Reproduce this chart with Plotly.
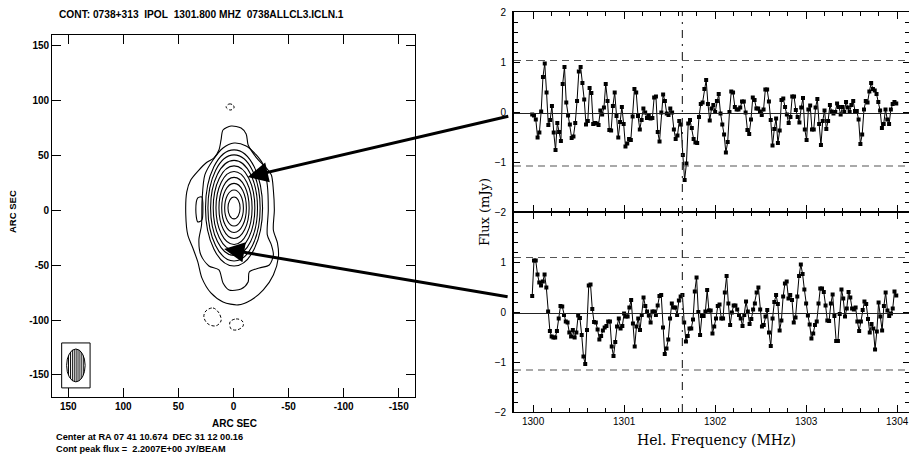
import numpy as np
import plotly.graph_objects as go

W, H = 909, 454

# ---------------- spectra (mJy) ----------------
flux_top = [
    -0.05, -0.07, -0.15, -0.51, -0.41, 0.01, 0.70, 0.97, 0.39, -0.26,
    -0.16, 0.12, -0.41, -0.76, -0.22, -0.40, -0.58, 0.56, 0.90, 0.19,
    -0.07, -0.25, -0.52, -0.49, -0.22, 0.22, 0.81, 0.90, 0.58, 0.25,
    -0.25, -0.18, 0.48, 0.38, -0.24, -0.22, -0.23, -0.26, 0.03, -0.05,
    0.09, 0.56, 0.22, -0.36, -0.37, 0.12, 0.39, -0.08, -0.51, -0.20,
    0.10, -0.24, -0.69, -0.63, -0.54, -0.56, -0.09, 0.46, 0.39, -0.08,
    -0.35, -0.16, 0.07, -0.01, -0.12, -0.07, -0.13, -0.12, 0.29, 0.31,
    -0.40, -0.59, -0.01, 0.35, 0.22, -0.03, -0.06, 0.07, -0.01, -0.35,
    -0.54, -0.47, -0.18, -0.25, -0.86, -1.36, -1.03, -0.23, -0.16, -0.32,
    -0.54, -0.61, -0.62, -0.10, 0.16, 0.19, 0.46, 0.64, 0.16, -0.17,
    0.07, 0.14, 0.00, 0.22, 0.36, -0.03, -0.25, -0.45, -0.81, -0.60,
    0.00, 0.41, 0.39, 0.10, 0.05, 0.05, 0.09, 0.21, 0.21, -0.01,
    -0.36, -0.44, -0.15, 0.29, 0.24, 0.07, 0.07, 0.01, -0.06, 0.05,
    0.45, 0.45, 0.21, -0.16, -0.67, -0.34, -0.13, -0.62, -0.37, 0.24,
    0.27, 0.10, -0.05, -0.22, -0.10, 0.31, 0.31, 0.04, -0.10, -0.21,
    0.09, 0.28, -0.35, -0.56, 0.05, 0.13, -0.35, -0.35, 0.09, 0.26,
    -0.24, -0.66, -0.18, 0.03, -0.34, -0.18, 0.14, 0.01, -0.03, 0.00,
    0.17, 0.10, -0.05, 0.10, 0.00, 0.20, 0.09, 0.00, 0.14, 0.22,
    0.02, 0.02, -0.15, -0.64, -0.45, 0.05, 0.22, 0.19, 0.41, 0.58,
    0.46, 0.43, 0.36, 0.20, 0.03, -0.32, -0.24, 0.05, -0.15, -0.24,
    0.05, 0.16, 0.20, 0.17,
]
flux_bottom = [
    0.32, 1.03, 1.03, 0.75, 0.59, 0.53, 0.61, 0.75, 0.49, 0.01,
    -0.38, -0.49, -0.51, -0.51, -0.38, -0.13, 0.12, 0.11, -0.06, -0.19,
    -0.21, -0.41, -0.49, -0.36, -0.51, -0.41, -0.07, -0.12, -0.46, -0.89,
    -1.04, -0.36, 0.53, 0.55, 0.06, -0.20, -0.21, -0.35, -0.55, -0.48,
    -0.37, -0.31, -0.28, -0.19, -0.19, -0.69, -0.88, -0.60, -0.29, -0.13,
    -0.33, -0.28, -0.03, -0.09, -0.09, 0.09, 0.24, -0.23, -0.69, -0.29,
    -0.13, -0.36, -0.06, 0.29, 0.12, 0.01, -0.07, -0.21, 0.01, 0.01,
    -0.06, 0.13, 0.32, 0.34, -0.31, -0.84, -0.73, -0.55, -0.13, 0.17,
    0.09, 0.09, -0.06, 0.23, 0.31, 0.34, -0.21, -0.59, -0.48, -0.33,
    -0.33, -0.15, 0.41, 0.69, 0.00, -0.46, -0.08, -0.08, 0.01, 0.44,
    0.03, 0.03, -0.43, -0.29, -0.13, 0.12, 0.15, -0.13, -0.13, 0.39,
    0.72, 0.17, -0.26, -0.01, 0.13, 0.13, 0.05, -0.06, -0.13, -0.28,
    -0.06, 0.21, 0.01, -0.24, -0.14, 0.05, 0.17, 0.39, 0.49, 0.05,
    -0.29, -0.26, -0.09, 0.04, -0.41, -0.68, -0.13, 0.20, 0.34, 0.16,
    -0.37, -0.17, 0.31, 0.57, 0.61, 0.27, 0.34, 0.24, -0.21, -0.11,
    0.31, 0.72, 0.95, 0.76, 0.45, 0.17, -0.07, -0.25, -0.53, -0.43,
    -0.26, -0.19, 0.17, 0.47, 0.47, 0.40, 0.13, -0.17, -0.18, 0.17,
    0.35, -0.08, -0.58, -0.58, -0.04, 0.45, 0.27, -0.09, 0.07, 0.40,
    0.29, 0.07, 0.05, 0.09, -0.19, -0.38, -0.19, 0.04, 0.21, 0.16,
    -0.14, -0.41, -0.24, -0.33, -0.75, -0.39, 0.19, -0.09, -0.37, 0.12,
    0.39, 0.03, -0.08, -0.03, 0.07, 0.41, 0.33,
]
freq_first, freq_last = 1299.99, 1303.99
freq_top = np.linspace(freq_first, freq_last, len(flux_top))
freq_bottom = np.linspace(freq_first, freq_last, len(flux_bottom))

line_freq = 1301.64
top_levels = {"zero": -0.03, "hi": 1.03, "lo": -1.08}
bot_levels = {"zero": -0.03, "hi": 1.09, "lo": -1.16}
freq_ticks = [1300, 1301, 1302, 1303, 1304]

# ---------------- contour map (arcsec) ----------------
map_ticks = [150, 100, 50, 0, -50, -100, -150]
core_center = (-0.5, 2.3)
core_semi_x = [5.5, 8.5, 11.2, 13.7, 16.4, 18.9, 21.3, 23.7, 25.9]
core_semi_y = [10.0, 16.4, 22.4, 27.9, 33.3, 38.4, 43.4, 48.4, 53.0]

outer_a_x = [9.5, 2.2, -6.9, -11.5, -13.3, -17.0, -22.5, -29.8, -34.4, -36.2, -37.1, -36.2,
             -39.9, -40.8, -36.2, -27.1, -16.1, -4.2, 9.5, 20.5, 28.7, 32.4, 36.9, 41.5,
             43.3, 42.4, 38.8, 31.4, 25.0, 17.7, 13.2, 11.3, 9.5]
outer_a_y = [73.4, 77.0, 75.2, 69.8, 59.7, 53.4, 46.1, 38.7, 32.4, 18.7, 0.5, -17.8,
             -29.6, -42.4, -58.8, -72.5, -81.6, -86.1, -83.4, -75.2, -61.5, -46.9, -34.2, -22.3,
             -4.1, 16.9, 27.8, 36.9, 43.3, 47.9, 55.2, 64.3, 73.4]
outer_b_x = [-0.5, -11.5, -20.7, -27.1, -30.7, -31.6, -30.7, -34.4, -36.2, -32.5, -23.4, -14.3,
             -13.3, -6.9, 4.0, 9.5, 13.2, 22.3, 29.6, 31.4, 29.0, 28.5, 26.0, 18.6, 9.5, -0.5]
outer_b_y = [61.5, 58.8, 50.6, 41.5, 23.2, 0.5, -22.3, -31.4, -40.6, -49.7, -52.4, -56.1,
             -65.2, -71.6, -72.5, -66.1, -54.2, -50.6, -40.6, -26.9, -13.2, 9.6, 32.4, 46.0, 57.0, 61.5]
island_x = [32.4, 28.7, 27.8, 28.7, 32.4, 34.2, 32.4]
island_y = [11.4, 12.3, 2.3, -8.7, -10.5, 0.5, 11.4]

neg1_x = [6.8, 4.0, 0.4, -0.5, 3.1, 6.8]
neg1_y = [94.4, 97.1, 96.2, 93.5, 91.6, 94.4]
neg2_x = [25.0, 18.6, 13.2, 11.3, 15.9, 23.2, 26.9, 25.0]
neg2_y = [-91.6, -88.9, -93.4, -100.7, -105.2, -103.4, -97.0, -91.6]
neg3_x = [3.1, -2.4, -7.9, -8.8, -3.3, 2.2, 3.1]
neg3_y = [-101.6, -98.9, -100.7, -105.2, -108.9, -108.0, -101.6]

beam_center = (143.1, -141.3)
beam_semi = (8.4, 15.0)
beam_box = (156.0, 130.2, -120.8, -161.8)

arrow_heads = [(-13.0, 30.6), (8.5, -35.1)]
arrow_tails_px = [(262, -61), (285, 48)]

title_text = "CONT: 0738+313\u00a0\u00a0IPOL\u00a0\u00a01301.800 MHZ\u00a0\u00a00738ALLCL3.ICLN.1"
foot1 = "Center at RA 07 41 10.674\u00a0\u00a0DEC 31 12 00.16"
foot2 = "Cont peak flux =\u00a0\u00a02.2007E+00 JY/BEAM"

# ---------------- figure ----------------
fig = go.Figure()
CL = dict(color="black", width=1.1)

for xs, ys in [(outer_a_x, outer_a_y), (outer_b_x, outer_b_y), (island_x, island_y)]:
    fig.add_trace(go.Scatter(x=xs, y=ys, mode="lines", line=dict(shape="spline", smoothing=0.8, **CL),
                             xaxis="x", yaxis="y", showlegend=False, hoverinfo="skip"))
for xs, ys in [(neg1_x, neg1_y), (neg2_x, neg2_y), (neg3_x, neg3_y)]:
    fig.add_trace(go.Scatter(x=xs, y=ys, mode="lines",
                             line=dict(shape="spline", smoothing=1, color="black", width=1, dash="3px,2px"),
                             xaxis="x", yaxis="y", showlegend=False, hoverinfo="skip"))

shapes = []
cx, cy = core_center
for ax_, ay_ in zip(core_semi_x, core_semi_y):
    shapes.append(dict(type="circle", xref="x", yref="y", x0=cx - ax_, x1=cx + ax_,
                       y0=cy - ay_, y1=cy + ay_, line=CL))
# beam
bx0, bx1, by0, by1 = beam_box
shapes.append(dict(type="rect", xref="x", yref="y", x0=bx0, x1=bx1, y0=by0, y1=by1,
                   line=dict(color="black", width=1)))
bcx, bcy = beam_center
ba, bb = beam_semi
shapes.append(dict(type="circle", xref="x", yref="y", x0=bcx - ba, x1=bcx + ba,
                   y0=bcy - bb, y1=bcy + bb, line=dict(color="black", width=1)))
for f in np.linspace(-0.8, 0.8, 8):
    h = bb * np.sqrt(1 - f * f)
    shapes.append(dict(type="line", xref="x", yref="y", x0=bcx + f * ba, x1=bcx + f * ba,
                       y0=bcy - h, y1=bcy + h, line=dict(color="black", width=1)))

# spectra
for flux, freq, xa, ya, lv in [(flux_top, freq_top, "x2", "y2", top_levels),
                               (flux_bottom, freq_bottom, "x3", "y3", bot_levels)]:
    fig.add_trace(go.Scatter(x=freq, y=flux, mode="lines+markers", xaxis=xa, yaxis=ya,
                             line=dict(color="black", width=1),
                             marker=dict(symbol="square", size=4, color="black"),
                             showlegend=False, hoverinfo="skip"))
    shapes.append(dict(type="line", xref=xa + " domain", yref=ya, x0=0, x1=1,
                       y0=lv["zero"], y1=lv["zero"], line=dict(color="#222", width=1.2)))
    for k in ("hi", "lo"):
        shapes.append(dict(type="line", xref=xa + " domain", yref=ya, x0=0, x1=1,
                           y0=lv[k], y1=lv[k], line=dict(color="#555", width=1.2, dash="7px,5px")))

def px(v):
    return v / W

def py(v):
    return 1 - v / H

shapes.append(dict(type="line", xref="x2", yref="paper", x0=line_freq, x1=line_freq,
                   y0=py(412), y1=py(12), line=dict(color="#333", width=1.2, dash="8px,6px,2px,6px")))

SANS = "Liberation Sans, Arial, sans-serif"
SERIF = "DejaVu Serif, serif"
left_axis = dict(showline=True, linecolor="black", linewidth=1.3, mirror="ticks", ticks="inside",
                 ticklen=9, tickcolor="black", tickwidth=1.2, showgrid=False, zeroline=False,
                 automargin=False,
                 tickvals=map_ticks, ticktext=[str(t) for t in map_ticks],
                 tickfont=dict(family=SANS, size=10, color="black", weight="bold"))
spec_x = dict(showline=True, linecolor="black", linewidth=1.2, mirror="allticks", ticks="inside",
              ticklen=7, tickcolor="black", tickwidth=1.3, showgrid=False, zeroline=False,
              automargin=False,
              range=[1299.79, 1304.13], tickvals=freq_ticks,
              minor=dict(dtick=0.2, tick0=1300, ticks="inside", ticklen=4, tickcolor="black", tickwidth=1),
              tickfont=dict(family=SANS, size=10, color="black"))
spec_y = dict(showline=True, linecolor="black", linewidth=1.8, mirror="allticks", ticks="inside",
              ticklen=6, tickcolor="black", tickwidth=1.3, showgrid=False, zeroline=False,
              automargin=False,
              range=[-2, 2], minor=dict(dtick=0.2, tick0=0, ticks="inside", ticklen=4, tickcolor="black", tickwidth=1),
              tickfont=dict(family=SANS, size=10, color="black"), ticklabelstandoff=4)

def note(text, x, y, size, family=SANS, bold=True, xanchor="center", angle=0):
    return dict(text=text, x=px(x), y=py(y), xref="paper", yref="paper", xanchor=xanchor,
                yanchor="middle", textangle=angle, showarrow=False,
                font=dict(family=family, size=size, color="black", weight="bold" if bold else "normal"))

annotations = [
    note(title_text, 57, 14, 10.2, xanchor="left"),
    note("ARC SEC", 12, 212, 9.5, angle=-90),
    note("ARC SEC", 235, 423, 10),
    note(foot1, 54, 436.5, 9.2, xanchor="left"),
    note(foot2, 54, 448.5, 9.2, xanchor="left"),
    note("Hel. Frequency (MHz)", 716, 440, 14, family=SERIF, bold=False),
    note("Flux (mJy)", 484, 212, 13, family=SERIF, bold=False, angle=-90),
]
for (hx, hy), (tx, ty) in zip(arrow_heads, arrow_tails_px):
    annotations.append(dict(x=hx, y=hy, xref="x", yref="y", ax=tx, ay=ty, text="",
                            showarrow=True, arrowhead=2, arrowsize=1.35, arrowwidth=3,
                            arrowcolor="black"))

fig.update_layout(
    width=W, height=H, margin=dict(l=0, r=0, t=0, b=0, autoexpand=False),
    paper_bgcolor="white", plot_bgcolor="white", showlegend=False,
    xaxis=dict(domain=[px(52.3), px(415)], range=[164.5, -164.8], anchor="y", **left_axis),
    yaxis=dict(domain=[py(397), py(34.7)], range=[-170.1, 160.3], anchor="x", **left_axis),
    xaxis2=dict(domain=[px(514), 1.0], anchor="y2", showticklabels=False, **spec_x),
    yaxis2=dict(domain=[py(212), py(12)], anchor="x2", tickvals=[-2, -1, 0, 1, 2], **spec_y),
    xaxis3=dict(domain=[px(514), 1.0], anchor="y3", matches="x2", **spec_x),
    yaxis3=dict(domain=[py(412), py(212)], anchor="x3", tickvals=[-2, -1, 0, 1], **spec_y),
    shapes=shapes, annotations=annotations,
)

fig.write_html("out.html", config={"displayModeBar": False},
               post_script="document.body.style.margin='0';document.body.style.overflow='hidden';")
